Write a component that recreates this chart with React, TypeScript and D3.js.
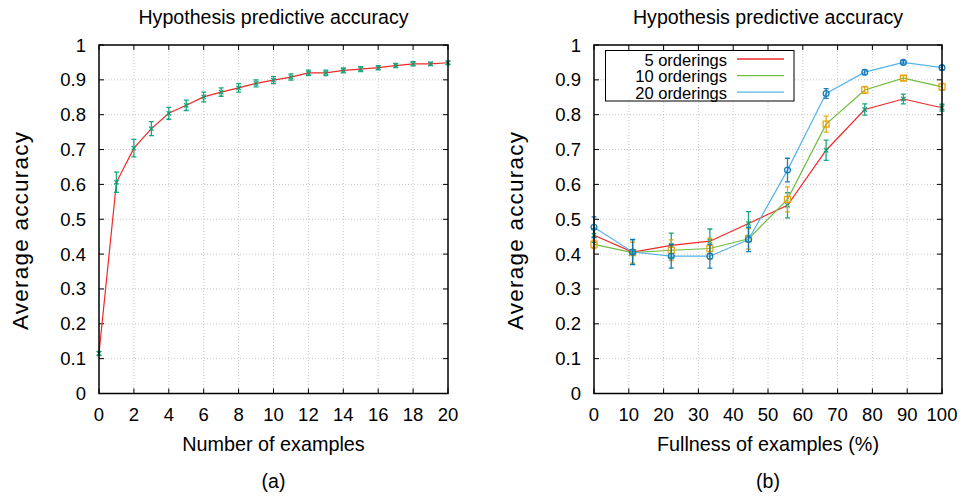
import React from "react";
import * as d3 from "d3";

// panel (a): accuracy vs number of examples
const examples = [0, 1, 2, 3, 4, 5, 6, 7, 8, 9, 10, 11, 12, 13, 14, 15, 16, 17, 18, 19, 20];
const accA = [0.115, 0.606, 0.704, 0.76, 0.804, 0.827, 0.851, 0.865, 0.877, 0.89, 0.899, 0.908, 0.92, 0.92, 0.927, 0.931, 0.935, 0.941, 0.946, 0.946, 0.949];
const errA = [0.006, 0.029, 0.025, 0.02, 0.017, 0.015, 0.014, 0.012, 0.012, 0.01, 0.01, 0.009, 0.008, 0.008, 0.007, 0.007, 0.006, 0.006, 0.006, 0.005, 0.005];

// panel (b): accuracy vs fullness (%)
const fullness = [0, 11.1, 22.2, 33.3, 44.4, 55.6, 66.7, 77.8, 88.9, 100];
const acc5 = [0.454, 0.406, 0.425, 0.437, 0.488, 0.54, 0.698, 0.815, 0.845, 0.82];
const err5 = [0.02, 0.035, 0.035, 0.035, 0.034, 0.036, 0.029, 0.016, 0.014, 0.01];
const acc10 = [0.428, 0.404, 0.411, 0.416, 0.444, 0.557, 0.773, 0.871, 0.905, 0.88];
const err10 = [0.012, 0.03, 0.03, 0.03, 0.03, 0.036, 0.023, 0.01, 0.007, 0.01];
const acc20 = [0.477, 0.406, 0.394, 0.394, 0.442, 0.641, 0.861, 0.922, 0.95, 0.935];
const err20 = [0.03, 0.036, 0.034, 0.034, 0.035, 0.034, 0.014, 0.007, 0.005, 0.006];

const seriesNames = ["5 orderings", "10 orderings", "20 orderings"];
const yTicks = [0, 0.1, 0.2, 0.3, 0.4, 0.5, 0.6, 0.7, 0.8, 0.9, 1];
const xTicksA = [0, 2, 4, 6, 8, 10, 12, 14, 16, 18, 20];
const xTicksB = [0, 10, 20, 30, 40, 50, 60, 70, 80, 90, 100];

const FONT = "'Liberation Sans', Arial, Helvetica, sans-serif";
const TOP = 45;
const BOTTOM = 393.5;

type Series = { x: number[]; y: number[]; e: number[]; line: string; bar: string; mark: "x" | "sq" | "o" };

const Marker = ({ kind, cx, cy, color }: { kind: string; cx: number; cy: number; color: string }) => {
  if (kind === "sq")
    return <rect x={cx - 3} y={cy - 3} width={6} height={6} fill="none" stroke={color} strokeWidth={1.3} />;
  if (kind === "o") return <circle cx={cx} cy={cy} r={2.9} fill="none" stroke={color} strokeWidth={1.3} />;
  return (
    <path
      d={`M${cx - 2.2},${cy - 2.2}L${cx + 2.2},${cy + 2.2}M${cx - 2.2},${cy + 2.2}L${cx + 2.2},${cy - 2.2}`}
      stroke={color}
      strokeWidth={1.3}
    />
  );
};

const Panel = ({
  x0,
  x1,
  domain,
  xTicks,
  series,
  title,
  xLabel,
  tag,
  legend,
}: {
  x0: number;
  x1: number;
  domain: [number, number];
  xTicks: number[];
  series: Series[];
  title: string;
  xLabel: string;
  tag: string;
  legend: boolean;
}) => {
  const x = d3.scaleLinear().domain(domain).range([x0, x1]);
  const y = d3.scaleLinear().domain([0, 1]).range([BOTTOM, TOP]);
  const line = d3.line<number>();
  const cx = (x0 + x1) / 2;
  const tickLen = 5;

  return (
    <g>
      {/* grid */}
      {yTicks.slice(1, -1).map((t) => (
        <line key={"gy" + t} x1={x0} x2={x1} y1={y(t)} y2={y(t)} stroke="#bbb" strokeWidth={0.8} strokeDasharray="1,2" />
      ))}
      {xTicks.slice(1, -1).map((t) => (
        <line key={"gx" + t} x1={x(t)} x2={x(t)} y1={TOP} y2={BOTTOM} stroke="#bbb" strokeWidth={0.8} strokeDasharray="1,2" />
      ))}
      {/* ticks, mirrored on all sides */}
      {yTicks.map((t) => (
        <g key={"ty" + t}>
          <line x1={x0} x2={x0 + tickLen} y1={y(t)} y2={y(t)} stroke="#000" />
          <line x1={x1} x2={x1 - tickLen} y1={y(t)} y2={y(t)} stroke="#000" />
          <text x={x0 - 13} y={y(t) + 6.5} textAnchor="end" fontSize={18.5} fontFamily={FONT}>
            {t}
          </text>
        </g>
      ))}
      {xTicks.map((t) => (
        <g key={"tx" + t}>
          <line x1={x(t)} x2={x(t)} y1={BOTTOM} y2={BOTTOM - tickLen} stroke="#000" />
          <line x1={x(t)} x2={x(t)} y1={TOP} y2={TOP + tickLen} stroke="#000" />
          <text x={x(t)} y={420.5} textAnchor="middle" fontSize={18.5} fontFamily={FONT}>
            {t}
          </text>
        </g>
      ))}
      {/* series */}
      {series.map((s, i) => (
        <g key={"s" + i}>
          <path
            d={line(s.x.map((v, j) => [x(v), y(s.y[j])]) as [number, number][]) || ""}
            fill="none"
            stroke={s.line}
            strokeWidth={1.2}
          />
          {s.x.map((v, j) => {
            const px = x(v);
            const lo = y(s.y[j] - s.e[j]);
            const hi = y(s.y[j] + s.e[j]);
            return (
              <g key={j} opacity={0.9}>
                <path
                  d={`M${px},${lo}L${px},${hi}M${px - 2.5},${lo}L${px + 2.5},${lo}M${px - 2.5},${hi}L${px + 2.5},${hi}`}
                  stroke={s.bar}
                  strokeWidth={1.3}
                  fill="none"
                />
                <Marker kind={s.mark} cx={px} cy={y(s.y[j])} color={s.bar} />
              </g>
            );
          })}
        </g>
      ))}
      {/* legend */}
      {legend && (
        <g>
          <rect x={605.5} y={50.5} width={188.5} height={50.5} fill="#fff" stroke="#000" strokeWidth={1} />
          {series.map((s, i) => (
            <g key={"lg" + i}>
              <text x={727} y={66 + i * 16.4} textAnchor="end" fontSize={16.5} fontFamily={FONT}>
                {seriesNames[i]}
              </text>
              <line x1={737} x2={784} y1={59 + i * 16.6} y2={59 + i * 16.6} stroke={s.line} strokeWidth={1.3} />
            </g>
          ))}
        </g>
      )}
      {/* frame */}
      <rect x={x0} y={TOP} width={x1 - x0} height={BOTTOM - TOP} fill="none" stroke="#000" strokeWidth={1.5} />
      {/* labels */}
      <text x={cx} y={23.5} textAnchor="middle" fontSize={19.6} fontFamily={FONT}>
        {title}
      </text>
      <text x={cx} y={451} textAnchor="middle" fontSize={19.8} fontFamily={FONT}>
        {xLabel}
      </text>
      <text
        transform={`translate(${x0 - 71},231) rotate(-90)`}
        textAnchor="middle"
        fontSize={22.5}
        fontFamily={FONT}
        textLength={198}
        lengthAdjust="spacing"
      >
        Average accuracy
      </text>
      <text x={cx} y={488} textAnchor="middle" fontSize={19.5} fontFamily={FONT}>
        {tag}
      </text>
    </g>
  );
};

export default function App() {
  const seriesA: Series[] = [{ x: examples, y: accA, e: errA, line: "#f02828", bar: "#009e73", mark: "x" }];
  const seriesB: Series[] = [
    { x: fullness, y: acc5, e: err5, line: "#f02828", bar: "#009e73", mark: "x" },
    { x: fullness, y: acc10, e: err10, line: "#72bb40", bar: "#e69f00", mark: "sq" },
    { x: fullness, y: acc20, e: err20, line: "#56b4e9", bar: "#0072b2", mark: "o" },
  ];
  return (
    <svg width={968} height={498} style={{ position: "absolute", left: 0, top: 0, background: "#fff" }}>
      <Panel
        x0={99}
        x1={448}
        domain={[0, 20]}
        xTicks={xTicksA}
        series={seriesA}
        title="Hypothesis predictive accuracy"
        xLabel="Number of examples"
        tag="(a)"
        legend={false}
      />
      <Panel
        x0={594}
        x1={942}
        domain={[0, 100]}
        xTicks={xTicksB}
        series={seriesB}
        title="Hypothesis predictive accuracy"
        xLabel="Fullness of examples (%)"
        tag="(b)"
        legend={true}
      />
    </svg>
  );
}
